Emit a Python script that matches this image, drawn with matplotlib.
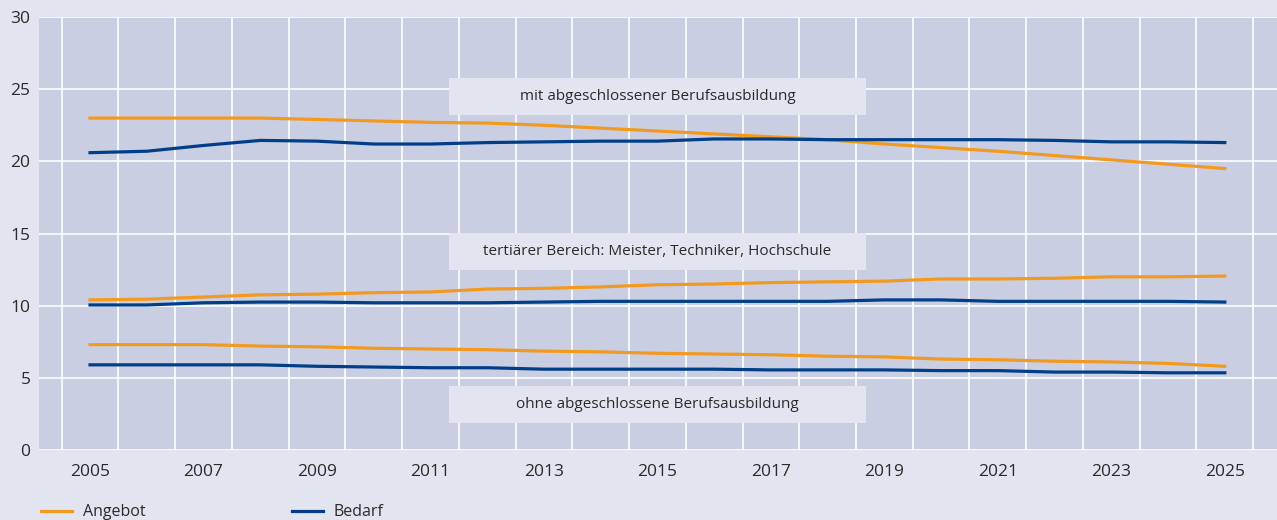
import matplotlib.pyplot as plt
from matplotlib.patches import Rectangle

plt.rcParams['font.family'] = ['Open Sans', 'DejaVu Sans']

years = list(range(2005, 2026))

# mit abgeschlossener Berufsausbildung
angebot_mit = [23.0, 23.0, 23.0, 23.0, 22.9, 22.8, 22.7, 22.65, 22.5, 22.3, 22.1,
               21.9, 21.7, 21.5, 21.2, 20.95, 20.7, 20.4, 20.1, 19.8, 19.5]
bedarf_mit = [20.6, 20.7, 21.1, 21.45, 21.4, 21.2, 21.2, 21.3, 21.35, 21.4, 21.4,
              21.55, 21.55, 21.5, 21.5, 21.5, 21.5, 21.45, 21.35, 21.35, 21.3]

# tertiaerer Bereich
angebot_tert = [10.4, 10.45, 10.6, 10.75, 10.8, 10.9, 10.95, 11.15, 11.2, 11.3, 11.45,
                11.5, 11.6, 11.65, 11.7, 11.85, 11.85, 11.9, 12.0, 12.0, 12.05]
bedarf_tert = [10.05, 10.05, 10.2, 10.25, 10.25, 10.2, 10.2, 10.2, 10.25, 10.3, 10.3,
               10.3, 10.3, 10.3, 10.4, 10.4, 10.3, 10.3, 10.3, 10.3, 10.25]

# ohne abgeschlossene Berufsausbildung
angebot_ohne = [7.3, 7.3, 7.3, 7.2, 7.15, 7.05, 7.0, 6.95, 6.85, 6.8, 6.7,
                6.65, 6.6, 6.5, 6.45, 6.3, 6.25, 6.15, 6.1, 6.0, 5.8]
bedarf_ohne = [5.9, 5.9, 5.9, 5.9, 5.8, 5.75, 5.7, 5.7, 5.6, 5.6, 5.6,
               5.6, 5.55, 5.55, 5.55, 5.5, 5.5, 5.4, 5.4, 5.35, 5.35]

labels = ['mit abgeschlossener Berufsausbildung',
          'tertiärer Bereich: Meister, Techniker, Hochschule',
          'ohne abgeschlossene Berufsausbildung']
label_y = [24.5, 13.75, 3.15]

orange = '#f39a1e'
blue = '#003f87'
bg = '#e2e4f0'
plot_bg = '#c9cee3'

fig = plt.figure(figsize=(12.77, 5.2), dpi=100, facecolor=bg)
ax = fig.add_axes([0.0305, 0.1346, 0.9695, 0.8327])
ax.set_facecolor(plot_bg)

la, = ax.plot(years, angebot_mit, color=orange, lw=2.3, label='Angebot')
lb, = ax.plot(years, bedarf_mit, color=blue, lw=2.3, label='Bedarf')
ax.plot(years, angebot_tert, color=orange, lw=2.3)
ax.plot(years, bedarf_tert, color=blue, lw=2.3)
ax.plot(years, angebot_ohne, color=orange, lw=2.3)
ax.plot(years, bedarf_ohne, color=blue, lw=2.3)

ax.set_xlim(2004.1, 2025.92)
ax.set_ylim(0, 30)

# grid between the years
ax.set_xticks([y + 0.5 for y in range(2004, 2026)], minor=True)
ax.set_xticks(years[::2])
ax.set_yticks([0, 5, 10, 15, 20, 25, 30])
ax.grid(which='minor', axis='x', color='white', lw=1.2)
ax.grid(which='major', axis='y', color='white', lw=1.2)
ax.set_axisbelow(True)
ax.tick_params(which='both', length=0)
ax.tick_params(axis='y', pad=6, labelsize=12.5, labelcolor='#2a2a2a')
ax.tick_params(axis='x', pad=10, labelsize=12.5, labelcolor='#2a2a2a')
for s in ax.spines.values():
    s.set_visible(False)

for txt, yc in zip(labels, label_y):
    ax.add_patch(Rectangle((2011.32, yc - 1.28), 7.35, 2.56, facecolor=bg,
                           edgecolor='none', zorder=3))
    ax.text(2015.0, yc, txt, ha='center', va='center', fontsize=11,
            color='#2a2a2a', zorder=4)

fig.legend(handles=[la, lb], loc='lower left', bbox_to_anchor=(0.021, -0.028),
           ncol=2, frameon=False, fontsize=11.5, handlelength=1.9,
           handletextpad=0.7, columnspacing=9.2, labelcolor='#2a2a2a')

fig.savefig('out.png', dpi=100, facecolor=bg)
